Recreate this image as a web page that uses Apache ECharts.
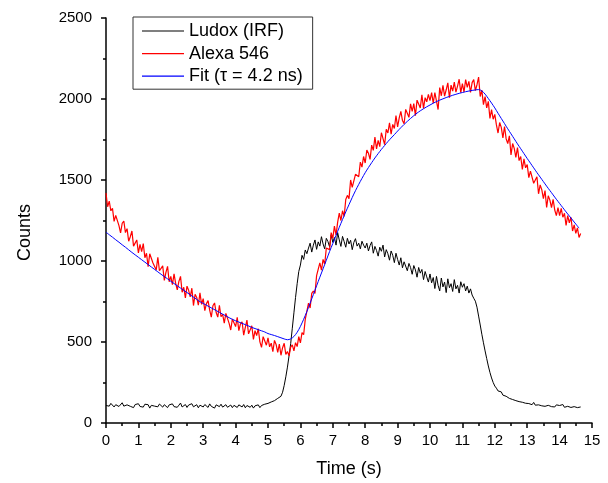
<!DOCTYPE html>
<html><head><meta charset="utf-8">
<script src="https://cdn.jsdelivr.net/npm/echarts@6/dist/echarts.min.js"></script>
<style>html,body{margin:0;padding:0;background:#fff}#c{width:608px;height:483px}</style>
</head><body><div id="c"></div>
<script>
const seriesNames = ['Ludox (IRF)', 'Alexa 546', 'Fit (\u03c4 = 4.2 ns)'];
const xTicks = [0,1,2,3,4,5,6,7,8,9,10,11,12,13,14,15];
const yTicks = [0,500,1000,1500,2000,2500];
const dataStep = 0.05;   // sampling step of measured curves (s)
const fitStep = 0.1;     // sampling step of fit curve (s)

const ludox = [
108,115,104,121,110,99,113,118,102,109,125,104,98,112,116,103,110,95,114,108,
119,102,111,98,116,107,113,92,109,121,104,111,100,117,106,98,113,109,95,112,
106,118,101,112,97,110,123,99,108,114,96,111,105,119,100,108,113,94,110,105,
99,114,108,96,118,103,110,92,112,106,101,116,98,108,113,97,104,111,95,109,
103,96,112,105,99,114,94,108,101,97,110,92,106,100,112,95,108,103,116,110,
121,112,130,118,138,128,152,145,165,190,232,285,345,415,490,585,680,775,860,935,
975,1035,1010,1068,1045,1080,1110,1055,1098,1130,1072,1118,1092,1150,1105,1075,1140,1120,1088,1162,
1115,1145,1098,1175,1130,1090,1152,1120,1085,1140,1105,1128,1070,1115,1138,1092,1110,1075,1122,1098,
1080,1110,1062,1095,1118,1048,1090,1065,1030,1085,1060,1098,1025,1070,1045,1005,1062,1035,990,1048,
1010,975,1020,958,995,1005,940,985,960,918,972,945,900,960,925,948,885,935,902,870,
920,865,898,830,905,850,815,895,840,870,805,890,835,860,812,885,828,850,802,872,
838,860,815,845,802,828,790,770,752,715,660,605,548,495,445,398,352,312,278,250,
228,215,198,188,192,172,180,165,168,152,160,145,148,138,146,132,140,128,134,122,
128,120,125,113,127,110,118,112,121,106,116,103,113,109,117,101,111,99,112,105,
108,99,114,97,106,103,111,96,104,101,109,95,103,99
];

const alexa = [
1420,1335,1370,1310,1325,1245,1282,1285,1218,1173,1233,1247,1175,1200,1122,1150,1185,1092,1102,1130,
1050,1102,1058,1108,1020,1048,965,1045,1050,988,1000,945,1022,940,941,970,880,930,967,872,
905,854,920,862,822,874,905,807,838,772,845,819,778,832,725,795,775,727,803,732,
768,694,737,756,697,654,724,741,682,654,727,656,670,617,677,684,615,574,642,651,
595,652,570,612,625,542,590,635,550,559,600,516,570,539,582,501,467,533,538,480,
525,470,493,440,510,485,436,487,418,465,492,423,441,415,468,482,445,496,472,533,
495,558,545,640,645,740,710,800,815,800,910,900,988,943,1010,980,1080,1082,1070,1175,
1140,1215,1160,1240,1295,1250,1310,1275,1380,1405,1385,1500,1455,1445,1535,1538,1520,1610,1580,1645,
1605,1685,1665,1627,1715,1683,1765,1692,1745,1706,1792,1788,1718,1813,1790,1853,1783,1843,1818,1898,
1828,1883,1923,1868,1847,1936,1924,1887,1970,1923,1971,1897,1993,1969,1945,2026,1942,2008,1983,2028,
1990,2040,1975,2040,2035,1935,2070,2020,2084,2018,2057,2100,2008,2086,2049,2104,2043,2080,2122,2039,
2095,2043,2120,2072,2109,2040,2101,2120,2052,2088,2135,2015,2055,1965,2015,1945,1985,1880,1935,1875,
1905,1840,1790,1855,1825,1760,1830,1755,1725,1773,1655,1725,1695,1640,1700,1620,1645,1565,1630,1575,
1595,1515,1555,1560,1480,1485,1520,1415,1470,1440,1385,1435,1330,1403,1376,1329,1380,1315,1280,1330,
1280,1325,1270,1295,1220,1280,1235,1270,1185,1223,1170,1205,1145,1170
];

const fit = [
1178,1162,1147,1131,1116,1100,1085,1069,1053,1038,
1023,1008,993,978,963,948,933,918,904,890,
875,861,847,833,819,805,791,777,763,749,
738,727,716,705,694,683,672,661,650,640,
631,623,615,607,599,590,583,576,569,562,
552,546,540,533,526,519,514,519,534,560,
596,640,688,740,793,847,900,952,1005,1058,
1108,1158,1208,1256,1303,1348,1392,1434,1473,1510,
1545,1577,1607,1636,1663,1689,1713,1737,1759,1780,
1802,1823,1843,1862,1880,1897,1913,1927,1940,1952,
1963,1974,1984,1993,2001,2009,2016,2023,2029,2035,
2040,2045,2049,2053,2056,2058,2050,2030,2003,1975,
1945,1912,1880,1848,1816,1785,1754,1723,1693,1663,
1633,1604,1575,1546,1518,1490,1462,1435,1408,1381,
1355,1329,1303,1278,1253,1228,1203
];

function pairs(vals, step){ return vals.map((v,i)=>[+(i*step).toFixed(2), v]); }

const FONT = '"Liberation Sans", Arial, sans-serif';
const chart = echarts.init(document.getElementById('c'), null, {renderer:'canvas'});
const axisCommon = {
  axisLine:{show:true,onZero:false,lineStyle:{color:'#000',width:1.5}},
  axisTick:{show:true,inside:false,length:5,lineStyle:{color:'#000',width:1.5}},
  minorTick:{show:true,splitNumber:2,length:3,lineStyle:{color:'#000',width:1.5}},
  splitLine:{show:false}
};
chart.setOption({
  animation:false,
  backgroundColor:'#fff',
  grid:{left:106,right:16,top:18,bottom:60},
  legend:{
    orient:'vertical', left:133, top:17,
    padding:[4,10,3,9], itemGap:2.6, itemWidth:42, itemHeight:1.2, icon:'rect',
    borderColor:'#333', borderWidth:1, backgroundColor:'#fff',
    textStyle:{fontSize:18,lineHeight:20,color:'#000',fontFamily:FONT},
    data:seriesNames
  },
  xAxis:Object.assign({}, axisCommon, {
    type:'value', min:xTicks[0], max:xTicks[xTicks.length-1], interval:1,
    name:'Time (s)', nameLocation:'middle', nameGap:37,
    nameTextStyle:{fontSize:18,color:'#000',fontFamily:FONT},
    axisLabel:{color:'#000',fontSize:15,margin:10,fontFamily:FONT}
  }),
  yAxis:Object.assign({}, axisCommon, {
    type:'value', min:yTicks[0], max:yTicks[yTicks.length-1], interval:500,
    name:'Counts', nameLocation:'middle', nameGap:72,
    nameTextStyle:{fontSize:18,color:'#000',fontFamily:FONT,padding:[0,24,0,0]},
    axisLabel:{color:'#000',fontSize:15,margin:14,fontFamily:FONT,formatter:v=>String(v)}
  }),
  series:[
    {name:seriesNames[0], type:'line', data:pairs(ludox,dataStep), symbol:'none',
     lineStyle:{color:'#000',width:1}, itemStyle:{color:'#000'}},
    {name:seriesNames[1], type:'line', data:pairs(alexa,dataStep), symbol:'none',
     lineStyle:{color:'#ff0000',width:1.2}, itemStyle:{color:'#ff0000'}},
    {name:seriesNames[2], type:'line', data:pairs(fit,fitStep), symbol:'none', smooth:0.3,
     lineStyle:{color:'#0000ff',width:1}, itemStyle:{color:'#0000ff'}}
  ]
});
</script></body></html>
